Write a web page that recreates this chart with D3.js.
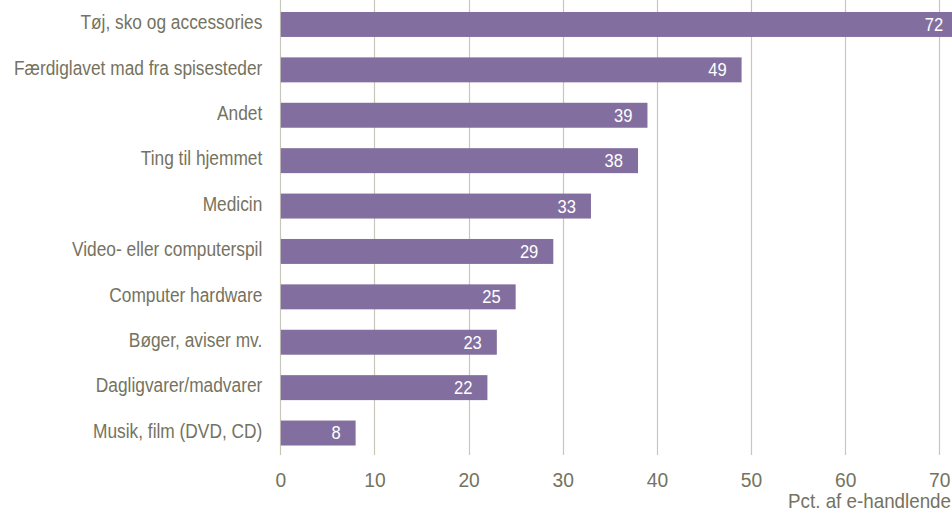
<!DOCTYPE html>
<html>
<head>
<meta charset="utf-8">
<script src="https://cdn.jsdelivr.net/npm/d3@7"></script>
<style>
  html, body { margin: 0; padding: 0; background: #ffffff; }
  svg { display: block; }
  text { font-family: "Liberation Sans", Arial, sans-serif; }
</style>
</head>
<body>
<svg id="chart" width="952" height="513"></svg>
<script>
// Product groups bought online, share of online shoppers (pct.)
const categories = [
  "Tøj, sko og accessories",
  "Færdiglavet mad fra spisesteder",
  "Andet",
  "Ting til hjemmet",
  "Medicin",
  "Video- eller computerspil",
  "Computer hardware",
  "Bøger, aviser mv.",
  "Dagligvarer/madvarer",
  "Musik, film (DVD, CD)"
];
const values = [72, 49, 39, 38, 33, 29, 25, 23, 22, 8];
const xTicks = [0, 10, 20, 30, 40, 50, 60, 70];
const axisTitle = "Pct. af e-handlende";

const W = 952, H = 513;
const barColor = "#836f9f";
const textColor = "#75735f";
const gridColor = "#c9c7b9";

const svg = d3.select("#chart");

// Squeeze text horizontally around its anchor point (narrow typeface look)
function condense(sel, k) {
  sel.each(function () {
    const t = d3.select(this);
    const tx = +t.attr("x") || 0;
    const ty = +t.attr("y") || 0;
    t.attr("transform", `translate(${tx},${ty}) scale(${k},1) translate(${-tx},${-ty})`);
  });
}

const x = d3.scaleLinear().domain([0, 70]).range([280.3, 939.3]);
const y = d3.scaleBand()
  .domain(categories)
  .range([2, 455.5])
  .paddingInner(0.45)
  .paddingOuter(0.22);

const gridBottom = 455;

// vertical gridlines (including the zero line)
svg.append("g")
  .selectAll("line")
  .data(xTicks)
  .join("line")
  .attr("x1", d => Math.round(x(d)) + 0.5)
  .attr("x2", d => Math.round(x(d)) + 0.5)
  .attr("y1", 0)
  .attr("y2", gridBottom)
  .attr("stroke", gridColor)
  .attr("stroke-width", 1.2);

// bars
svg.append("g")
  .selectAll("rect")
  .data(values)
  .join("rect")
  .attr("x", x(0) + 0.5)
  .attr("y", (d, i) => y(categories[i]))
  .attr("width", d => x(d) - x(0) - 0.5)
  .attr("height", y.bandwidth())
  .attr("fill", barColor);

// value labels inside bar ends
const valueLabels = svg.append("g")
  .selectAll("text")
  .data(values)
  .join("text")
  .attr("x", d => x(d) - 15)
  .attr("y", (d, i) => y(categories[i]) + y.bandwidth() / 2)
  .attr("dy", "0.36em")
  .attr("text-anchor", "end")
  .attr("fill", "#ffffff")
  .attr("font-size", 18)
  .text(d => d);
condense(valueLabels, 0.92);

// category labels
const yAxis = d3.axisLeft(y).tickSize(0).tickPadding(18);
const gy = svg.append("g").attr("transform", `translate(${x(0)},0)`).call(yAxis);
gy.select(".domain").remove();
const catText = gy.selectAll("text")
  .attr("fill", textColor)
  .attr("font-size", 20)
  .attr("font-family", null)
  .attr("dy", "0.24em");
{
  const w0 = catText.filter(d => d === categories[0]).node().getComputedTextLength();
  condense(catText, 182 / w0);
}

// x axis tick labels
const xAxis = d3.axisBottom(x).tickValues(xTicks).tickSize(0).tickPadding(0).tickFormat(d3.format("d"));
const gx = svg.append("g").attr("transform", `translate(0,${gridBottom + 17})`).call(xAxis);
gx.select(".domain").remove();
const tickText = gx.selectAll("text")
  .attr("fill", textColor)
  .attr("font-size", 21)
  .attr("font-family", null);

// axis title
const title = svg.append("text")
  .attr("x", W - 1)
  .attr("y", 508)
  .attr("text-anchor", "end")
  .attr("fill", textColor)
  .attr("font-size", 20.5)
  .text(axisTitle);
const kTitle = 163 / title.node().getComputedTextLength();
condense(title, kTitle);
condense(tickText, kTitle);
</script>
</body>
</html>
